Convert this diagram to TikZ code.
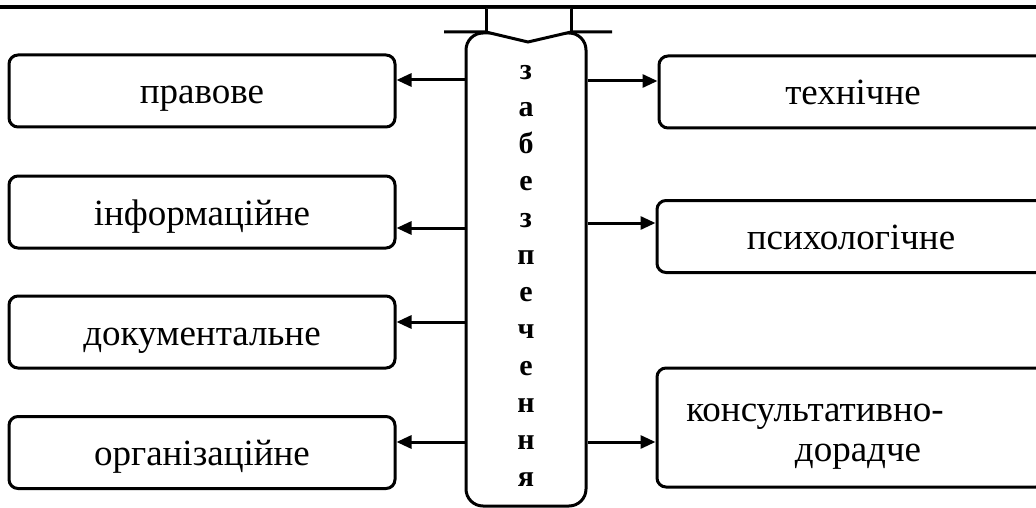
\documentclass[tikz,border=0pt]{standalone}
\usepackage{fontspec}
\setmainfont{Liberation Serif}
\usetikzlibrary{arrows.meta}
\begin{document}
\begin{tikzpicture}[x=1pt,y=-1pt,
  sidebox/.style={draw, line width=3pt, rounded corners=9pt, inner sep=0pt, fill=white,
    font=\fontsize{37}{40}\selectfont},
  leftbox/.style={sidebox, minimum width=386pt, minimum height=72pt, text height=27pt, text depth=1pt},
  rightbox/.style={sidebox, minimum width=388pt, minimum height=72pt, text height=27pt, text depth=1pt},
  twolinebox/.style={sidebox, minimum width=388pt, minimum height=119pt, align=center},
  centerbox/.style={draw, line width=3pt, rounded corners=17pt, inner sep=0pt, fill=white,
    minimum width=120pt, minimum height=473pt, align=center,
    font=\bfseries\fontsize{30}{37}\selectfont},
  arr/.style={line width=3pt, -{Triangle[length=15pt,width=13pt]}},
  thickline/.style={line width=4pt},
  headline/.style={line width=3pt, line join=miter}]
\useasboundingbox (0,0) rectangle (1036,508);
\clip (0,0) rectangle (1036,508);

% top line
\coordinate (tl) at (0,7);
\coordinate (tr) at (1036,7);
\draw[thickline] (tl) -- (tr);

% left boxes
\node[leftbox] (pravove) at (202,91) {правове};
\node[leftbox] (inform) at (202,212) {інформаційне};
\node[leftbox] (dokum) at (202,332) {документальне};
\node[leftbox] (orhan) at (202,452.5) {організаційне};

% right boxes
\node[rightbox] (tekhn) at (853,92) {технічне};
\node[rightbox] (psykh) at (851,236.5) {психологічне};
\node[twolinebox] (kons) at (851,427.5)
  {\rule{0pt}{36pt}консультативно-\hspace*{72pt}\\\hspace*{14pt}дорадче};

% central box
\node[centerbox] (zab) at (526,269.5) {\rule{0pt}{27pt}з\\а\\б\\е\\з\\п\\е\\ч\\е\\н\\н\\я};

% block arrow at the top
\coordinate (s1) at (486,9);
\coordinate (s2) at (486,32);
\coordinate (w1) at (444,32);
\coordinate (tip) at (528,42);
\coordinate (s3) at (571,32);
\coordinate (s4) at (571,9);
\coordinate (w2) at (612,32);
\fill[white] (s1) -- (s2) -- (tip) -- (s3) -- (s4) -- cycle;
\draw[headline] (s1) -- (s2);
\draw[headline] (s4) -- (s3);
\draw[headline] (w1) -- (s2) -- (tip) -- (s3) -- (w2);

% arrow levels
\coordinate (l1) at (0,80);
\coordinate (l2) at (0,228);
\coordinate (l3) at (0,322);
\coordinate (l4) at (0,442);
\coordinate (r1) at (0,81);
\coordinate (r2) at (0,223);
\coordinate (r3) at (0,442);

\draw[arr] (zab.west |- l1) -- (pravove.east |- l1);
\draw[arr] (zab.west |- l2) -- (inform.east |- l2);
\draw[arr] (zab.west |- l3) -- (dokum.east |- l3);
\draw[arr] (zab.west |- l4) -- (orhan.east |- l4);
\draw[arr] (zab.east |- r1) -- (tekhn.west |- r1);
\draw[arr] (zab.east |- r2) -- (psykh.west |- r2);
\draw[arr] (zab.east |- r3) -- (kons.west |- r3);
\end{tikzpicture}
\end{document}
